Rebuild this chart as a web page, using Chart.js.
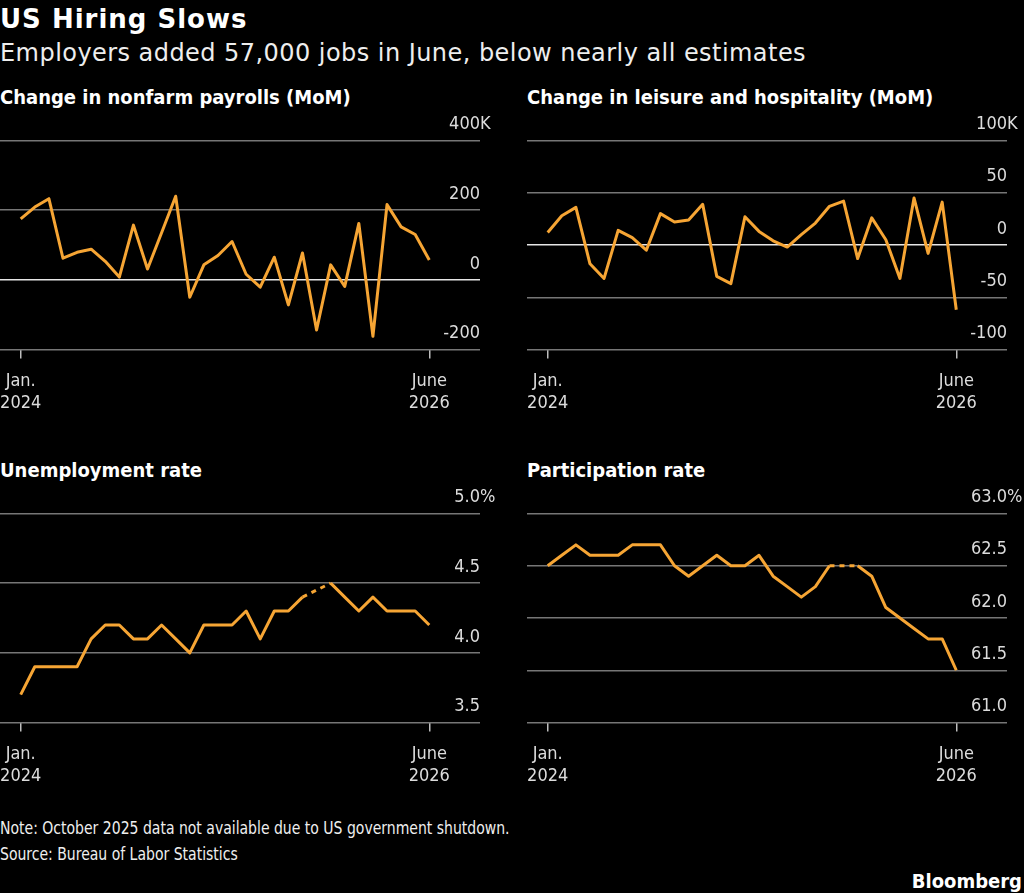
<!DOCTYPE html>
<html>
<head>
<meta charset="utf-8">
<script src="https://cdn.jsdelivr.net/npm/chart.js@4/dist/chart.umd.min.js"></script>
<style>
  body { margin: 0; background: #000; width: 1024px; height: 893px; overflow: hidden; position: relative; color: #fff; }
  .t { position: absolute; white-space: nowrap; line-height: 1; }
  #title { left: 0; top: 4px; font: bold 26px "DejaVu Sans"; letter-spacing: 1px; }
  #sub { left: 0; top: 39px; font: 24px "DejaVu Sans"; letter-spacing: 0.45px; color: #eee; }
  .ptitle { font: bold 20px "DejaVu Sans Condensed"; }
  .foot { font: 18px "DejaVu Sans Condensed"; color: #eee; transform: scaleX(0.865); transform-origin: 0 0; }
  #logo { right: 2px; top: 869px; font: bold 20px "DejaVu Sans Condensed"; }
  canvas { position: absolute; }
</style>
</head>
<body>
<div class="t" id="title">US Hiring Slows</div>
<div class="t" id="sub">Employers added 57,000 jobs in June, below nearly all estimates</div>
<div class="t ptitle" style="left:0;top:85px">Change in nonfarm payrolls (MoM)</div>
<div class="t ptitle" style="left:527px;top:85px">Change in leisure and hospitality (MoM)</div>
<div class="t ptitle" style="left:0;top:458px">Unemployment rate</div>
<div class="t ptitle" style="left:527px;top:458px">Participation rate</div>
<canvas id="payrolls" width="500" height="310" style="left:0;top:110px"></canvas>
<canvas id="leisure" width="497" height="310" style="left:527px;top:110px"></canvas>
<canvas id="unemp" width="500" height="310" style="left:0;top:483px"></canvas>
<canvas id="partic" width="497" height="310" style="left:527px;top:483px"></canvas>
<div class="t foot" style="left:0;top:817px">Note: October 2025 data not available due to US government shutdown.</div>
<div class="t foot" style="left:0;top:843px">Source: Bureau of Labor Statistics</div>
<div class="t" id="logo">Bloomberg</div>
<script>
// monthly, Jan. 2024 .. June 2026
const xTickLabels = [ [ 'Jan.', '2024' ], [ 'June', '2026' ] ]
const xTickIndex = [ 0, 29 ]

// thousands of jobs
const payrolls = [ 175, 209, 233, 62, 79, 88, 53, 8, 157, 31, 135, 240,
  -50, 43, 70, 110, 16, -21, 65, -72, 77, -144, 43, -19, 162, -162, 216, 152, 130, 57 ]
const leisure = [ 12, 28, 36, -18, -32, 14, 7, -5, 30, 22, 24, 39,
  -30, -37, 27, 13, 4, -2, 10, 21, 37, 42, -13, 26, 5, -32, 45, -8, 41, -62 ]
// percent, Oct. 2025 missing (shutdown)
const unemployment = [ 3.7, 3.9, 3.9, 3.9, 3.9, 4.1, 4.2, 4.2, 4.1, 4.1, 4.2, 4.1,
  4.0, 4.2, 4.2, 4.2, 4.3, 4.1, 4.3, 4.3, 4.4, null, 4.5, 4.4, 4.3, 4.4, 4.3, 4.3, 4.3, 4.2 ]
const participation = [ 62.5, 62.6, 62.7, 62.6, 62.6, 62.6, 62.7, 62.7, 62.7, 62.5, 62.4, 62.5,
  62.6, 62.5, 62.5, 62.6, 62.4, 62.3, 62.2, 62.3, 62.5, null, 62.5, 62.4, 62.1, 62.0, 61.9, 61.8, 61.8, 61.5 ]

const payrollTicks = [ -200, 0, 200, 400 ]
const leisureTicks = [ -100, -50, 0, 50, 100 ]
const unempTicks = [ 3.5, 4.0, 4.5, 5.0 ]
const particTicks = [ 61.0, 61.5, 62.0, 62.5, 63.0 ]

const lineColor = '#f6a534'
const fontFamily = '"DejaVu Sans Condensed", sans-serif'

// y labels sit above each gridline, number right-aligned to the plot edge, unit hangs past it
const rightLabels = {
  id: 'rightLabels',
  afterDraw( chart, args, opts ) {
    const { ctx, chartArea } = chart
    const y = chart.scales.y
    ctx.save()
    ctx.font = '18px ' + fontFamily
    ctx.fillStyle = '#dcdcdc'
    ctx.textBaseline = 'middle'
    y.ticks.forEach( ( t, i ) => {
      const py = y.getPixelForValue( t.value ) - 16
      ctx.textAlign = 'right'
      ctx.fillText( t.value.toFixed( opts.decimals ), chartArea.right, py )
      if ( i === y.ticks.length - 1 ) {
        ctx.textAlign = 'left'
        ctx.fillText( opts.unit, chartArea.right, py )
      }
    } )
    ctx.restore()
  }
}

function makePanel( id, values, ticks, decimals, unit ) {
  const canvas = document.getElementById( id )
  const plotTop = 30.5
  const plotBottom = 239.5
  const plotRight = 480
  return new Chart( canvas, {
    type: 'line',
    data: {
      datasets: [ {
        data: values.map( ( v, i ) => ( { x: i, y: v } ) ),
        borderColor: lineColor,
        borderWidth: 3,
        borderJoinStyle: 'round',
        pointRadius: 0,
        tension: 0,
        spanGaps: true,
        segment: {
          borderDash: ctx => ( ctx.p0.skip || ctx.p1.skip ) ? [ 5, 5 ] : undefined
        }
      } ]
    },
    options: {
      responsive: false,
      animation: false,
      events: [],
      layout: { padding: { top: plotTop, right: canvas.width - plotRight, left: 0, bottom: 0 } },
      plugins: {
        legend: { display: false },
        tooltip: { enabled: false },
        rightLabels: { decimals: decimals, unit: unit }
      },
      scales: {
        x: {
          type: 'linear',
          min: -1.47,
          max: 32.6,
          afterBuildTicks: s => { s.ticks = xTickIndex.map( v => ( { value: v } ) ) },
          afterFit: s => {
            s.height = canvas.height - plotBottom
            s.paddingLeft = 0
            s.paddingRight = 0
          },
          border: { display: false },
          grid: { drawOnChartArea: false, drawTicks: true, tickLength: 9, color: '#bdbdbd', lineWidth: 1.5 },
          ticks: {
            color: '#dcdcdc',
            font: { family: fontFamily, size: 18 },
            padding: 12,
            maxRotation: 0,
            autoSkip: false,
            callback: ( v ) => xTickLabels[ xTickIndex.indexOf( v ) ]
          }
        },
        y: {
          min: ticks[ 0 ],
          max: ticks[ ticks.length - 1 ],
          afterBuildTicks: s => { s.ticks = ticks.map( v => ( { value: v } ) ) },
          afterFit: s => { s.width = 0 },
          border: { display: false },
          ticks: { display: false },
          grid: {
            drawTicks: false,
            lineWidth: 1.5,
            color: ctx => ctx.tick && ctx.tick.value === 0 ? '#e6e6e6' : '#767676'
          }
        }
      }
    },
    plugins: [ rightLabels ]
  } )
}

makePanel( 'payrolls', payrolls, payrollTicks, 0, 'K' )
makePanel( 'leisure', leisure, leisureTicks, 0, 'K' )
makePanel( 'unemp', unemployment, unempTicks, 1, '%' )
makePanel( 'partic', participation, particTicks, 1, '%' )
</script>
</body>
</html>
